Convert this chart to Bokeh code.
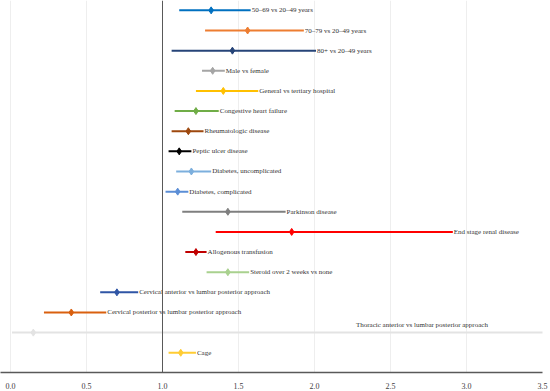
from bokeh.plotting import figure
from bokeh.models import ColumnDataSource, Range1d, Span, FixedTicker
from bokeh.core.properties import value
from bokeh.embed import file_html
from bokeh.resources import INLINE

labels = [
    "50–69 vs 20–49 years",
    "70–79 vs 20–49 years",
    "80+ vs 20–49 years",
    "Male vs female",
    "General vs tertiary hospital",
    "Congestive heart failure",
    "Rheumatologic disease",
    "Peptic ulcer disease",
    "Diabetes, uncomplicated",
    "Diabetes, complicated",
    "Parkinson disease",
    "End stage renal disease",
    "Allogenous transfusion",
    "Steroid over 2 weeks vs none",
    "Cervical anterior vs lumbar posterior approach",
    "Cervical posterior vs lumbar posterior approach",
    "Thoracic anterior vs lumbar posterior approach",
    "Cage",
]
estimate = [1.32, 1.56, 1.46, 1.33, 1.40, 1.22, 1.17, 1.11, 1.19, 1.10, 1.43, 1.85,
            1.22, 1.43, 0.70, 0.40, 0.15, 1.12]
lower = [1.11, 1.28, 1.06, 1.26, 1.22, 1.08, 1.06, 1.04, 1.09, 1.02, 1.13, 1.35,
         1.15, 1.29, 0.59, 0.22, 0.01, 1.04]
upper = [1.58, 1.93, 2.01, 1.41, 1.63, 1.37, 1.27, 1.19, 1.32, 1.17, 1.81, 2.91,
         1.29, 1.57, 0.84, 0.63, 5.00, 1.22]
colors = ["#0070C0", "#ED7D31", "#264478", "#A5A5A5", "#FFC000", "#70AD47",
          "#9E480E", "#000000", "#7CAFDD", "#5B8ED6", "#7F7F7F", "#FF0000",
          "#C00000", "#A9D18E", "#2F55A5", "#D9600F", "#E3E3E3", "#FFCC33"]
x_ticks = [0.0, 0.5, 1.0, 1.5, 2.0, 2.5, 3.0, 3.5]

rows = list(range(len(labels)))
X_MAX = 3.5
THORACIC_LABEL_X = 2.70

lab_x, lab_y, lab_txt, lab_align, lab_off = [], [], [], [], []
for i, t in enumerate(labels):
    if upper[i] > X_MAX:
        lab_x.append(THORACIC_LABEL_X); lab_align.append("center"); lab_off.append(-8)
    else:
        lab_x.append(upper[i]); lab_align.append("left"); lab_off.append(0)
    lab_y.append(i)
    lab_txt.append(t)

src = ColumnDataSource(dict(y=rows, est=estimate, lo=lower, hi=upper, color=colors))
lab_src = ColumnDataSource(dict(x=lab_x, y=lab_y, text=lab_txt, align=lab_align, yoff=lab_off))

p = figure(width=550, height=391, output_backend="svg", toolbar_location=None,
           x_range=Range1d(-0.0658, X_MAX), y_range=Range1d(17.98, -0.49),
           min_border_left=0, min_border_right=8, min_border_top=0, min_border_bottom=16)
p.outline_line_color = None
p.background_fill_color = "white"
p.yaxis.visible = False
p.ygrid.grid_line_color = None
p.xgrid.grid_line_color = "#EEEEEE"
p.xgrid.grid_line_width = 1
p.xaxis.ticker = FixedTicker(ticks=x_ticks)
p.xaxis.major_label_overrides = {t: f"{t:.1f}" for t in x_ticks}
p.xaxis.axis_line_color = "#595959"
p.xaxis.axis_line_width = 1.5
p.xaxis.major_tick_line_color = None
p.xaxis.minor_tick_line_color = None
p.xaxis.major_label_text_font = "Liberation Serif"
p.xaxis.major_label_text_font_size = "8px"
p.xaxis.major_label_text_color = "#404040"
p.xaxis.major_label_standoff = 4

p.add_layout(Span(location=1.0, dimension="height", line_color="#595959", line_width=1))

p.segment(x0="lo", x1="hi", y0="y", y1="y", line_color="color", line_width=2, source=src)
p.scatter(x="est", y="y", marker="diamond", size=7, fill_color="color", line_color="color",
          source=src)
p.text(x="x", y="y", text="text", text_align="align", y_offset="yoff", x_offset=1,
       text_baseline="middle", text_font=value("Liberation Serif"), text_font_size="7px",
       text_color="#333333", source=lab_src)

open("out.html", "w").write(file_html(p, INLINE))
